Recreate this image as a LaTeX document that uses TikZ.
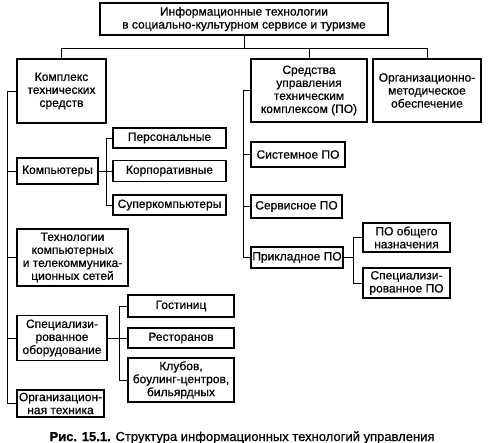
\documentclass[tikz,border=0pt]{standalone}
\usepackage{fontspec}
\setmainfont[FakeBold=0.6]{Liberation Sans}
\usetikzlibrary{positioning}
\tikzset{
  box/.style 2 args={rectangle,draw=black,line width=1.1pt,
              minimum width=#1pt,minimum height=#2pt,inner sep=0pt,
              font=\fontsize{12}{13}\selectfont,align=center},
  link/.style={line width=0.9pt,draw=black},
}
\begin{document}
\begin{tikzpicture}[x=1pt,y=-1pt]
  \useasboundingbox (0,0) rectangle (492,443);
  % top level
  \node[box={288}{32}] (top) at (244,19)
    {Информационные технологии\\в социально-культурном сервисе и туризме};
  \node[box={89}{64}]  (kts) at (61.5,91) {Комплекс\\технических\\средств};
  \node[box={116}{63}] (upr) at (309,90.5)
    {Средства\\управления\\техническим\\комплексом (ПО)};
  \node[box={108}{63}] (orgmet) at (427,90.5)
    {Организационно-\\методическое\\обеспечение};
  \coordinate (bus) at (244,48);
  \draw[link] (top.south) -- (top.south |- bus);
  \draw[link] (kts.north) |- (orgmet.north |- bus) -- (orgmet.north);
  \draw[link] (upr.north) -- (upr.north |- bus);

  % hardware branch
  \node[box={81}{26}]  (komp) at (57.5,171) {Компьютеры};
  \node[box={111}{57}] (tech) at (72.5,257.5)
    {Технологии\\компьютерных\\и телекоммуника-\\ционных сетей};
  \node[box={90}{45}]  (spec) at (62,338)
    {Специализи-\\рованное\\оборудование};
  \node[box={87}{27}]  (orgteh) at (60.5,403.5) {Организацион-\\ная техника};
  \coordinate (ltrunk) at (7,0);
  \draw[link] (kts.west) -- (kts.west -| ltrunk) |- (orgteh.west);
  \foreach \n in {komp,tech,spec}
    \draw[link] (\n.west) -- (\n.west -| ltrunk);

  \node[box={113}{20}] (pers)  at (169.5,138) {Персональные};
  \node[box={113}{21}] (korp)  at (169.5,171) {Корпоративные};
  \node[box={113}{20}] (super) at (169.5,205) {Суперкомпьютеры};
  \coordinate (kfork) at (106,0);
  \draw[link] (komp.east) -- (korp.west);
  \draw[link] (pers.west) -- (pers.west -| kfork) |- (super.west);

  \node[box={106}{22}] (gost) at (181,306) {Гостиниц};
  \node[box={106}{20}] (rest) at (181,338) {Ресторанов};
  \node[box={106}{44}] (klub) at (181,380)
    {Клубов,\\боулинг-центров,\\бильярдных};
  \coordinate (sfork) at (119,0);
  \draw[link] (spec.east) -- (rest.west);
  \draw[link] (gost.west) -- (gost.west -| sfork) |- (klub.west);

  % software branch
  \node[box={94}{25}] (sys)   at (298,154.5) {Системное ПО};
  \node[box={91}{23}] (serv)  at (296.5,206.5) {Сервисное ПО};
  \node[box={92}{21}] (prikl) at (297,257.5) {Прикладное ПО};
  \coordinate (rtrunk) at (243,0);
  \draw[link] (upr.west) -- (upr.west -| rtrunk) |- (prikl.west);
  \foreach \n in {sys,serv}
    \draw[link] (\n.west) -- (\n.west -| rtrunk);

  \node[box={87}{29}] (obsh)   at (406.5,237.5) {ПО общего\\назначения};
  \node[box={87}{30}] (specpo) at (406.5,283) {Специализи-\\рованное ПО};
  \coordinate (pfork) at (353,0);
  \draw[link] (prikl.east) -- (prikl.east -| pfork);
  \draw[link] (obsh.west) -- (obsh.west -| pfork) |- (specpo.west);

  % caption
  \node[anchor=base,inner sep=0pt,font=\fontsize{13}{14}\selectfont] (cap) at (242,441)
    {\textbf{Рис. 15.1.} Структура информационных технологий управления};
\end{tikzpicture}
\end{document}
